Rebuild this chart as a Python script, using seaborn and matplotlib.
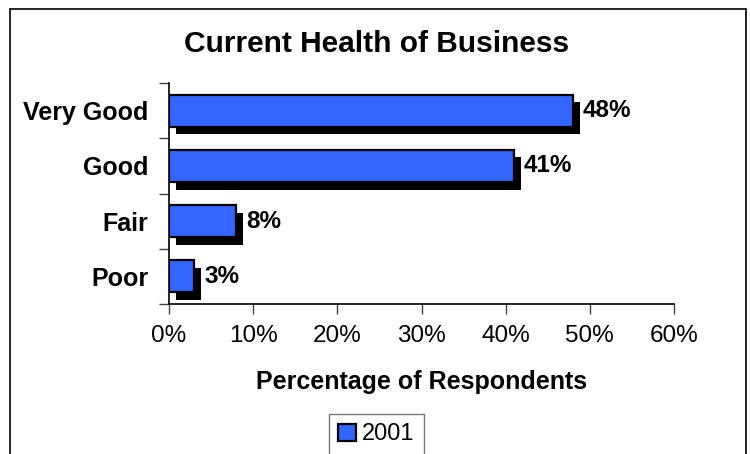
import matplotlib
matplotlib.use("Agg")
import matplotlib.pyplot as plt
import matplotlib.patheffects as pe
from matplotlib.patches import Rectangle, Patch
from matplotlib.ticker import PercentFormatter
import seaborn as sns
import pandas as pd

# Survey results
categories = ["Very Good", "Good", "Fair", "Poor"]
shares_2001 = [48, 41, 8, 3]
series_name = "2001"
x_ticks = [0, 10, 20, 30, 40, 50, 60]

BAR_BLUE = "#3366FF"

sns.set_theme(style="white")
plt.rcParams["font.family"] = ["Liberation Sans", "DejaVu Sans"]
plt.rcParams.update({
    "text.color": "black",
    "axes.labelcolor": "black",
    "xtick.color": "black",
    "ytick.color": "black",
})

df = pd.DataFrame({"Rating": categories, "Share": shares_2001})

fig = plt.figure(figsize=(7.5, 4.54), dpi=100)
ax = fig.add_axes([169 / 750, 1 - 304 / 454, (674 - 169) / 750, (304 - 83) / 454])

sns.barplot(data=df, x="Share", y="Rating", order=categories, orient="h",
            color=BAR_BLUE, saturation=1, width=0.58,
            edgecolor="black", linewidth=1.6, ax=ax)

# drop shadow behind each bar
for bar in ax.patches:
    bar.set_path_effects([
        pe.SimplePatchShadow(offset=(5, -5.5), shadow_rgbFace="black", alpha=1.0),
        pe.Normal(),
    ])

# value labels to the right of each bar
for bar, val in zip(ax.patches, shares_2001):
    y = bar.get_y() + bar.get_height() / 2
    ax.annotate(f"{val}%", xy=(bar.get_width(), y), xytext=(7, 0),
                textcoords="offset points", va="center", ha="left",
                fontsize=17.5, fontweight="bold", color="black")

ax.set_xlim(0, 60)
ax.set_ylim(3.5, -0.5)
ax.set_xticks(x_ticks)
ax.xaxis.set_major_formatter(PercentFormatter(decimals=0))
ax.set_yticks([-0.5, 0.5, 1.5, 2.5, 3.5], minor=False)
ax.set_yticklabels([])
ax.set_yticks(range(len(categories)), minor=True)
ax.set_yticklabels(categories, minor=True, fontsize=18, fontweight="bold")
ax.tick_params(axis="y", which="minor", length=0, pad=15)
ax.tick_params(axis="y", which="major", length=7, width=1, color="#444444",
               direction="out", left=True)
ax.tick_params(axis="x", length=7, width=1, color="#444444", direction="out",
               bottom=True, labelsize=17.5, pad=8)

for side in ("top", "right"):
    ax.spines[side].set_visible(False)
for side in ("left", "bottom"):
    ax.spines[side].set_color("black")
    ax.spines[side].set_linewidth(1.2)

ax.set_ylabel("")
ax.set_xlabel("Percentage of Respondents", fontsize=18, fontweight="bold", labelpad=17)

fig.text(377 / 750, 1 - 44 / 454, "Current Health of Business",
         ha="center", va="center", fontsize=21.5, fontweight="bold")

handle = Patch(facecolor=BAR_BLUE, edgecolor="black", linewidth=1.6, label=series_name)
leg = fig.legend(handles=[handle], loc="upper left",
                 bbox_to_anchor=(329 / 750, 1 - 414 / 454),
                 frameon=True, fancybox=False, fontsize=17,
                 handlelength=0.75, handleheight=0.75, handletextpad=0.25,
                 borderpad=0.4, borderaxespad=0)
leg.get_frame().set_edgecolor("#555555")
leg.get_frame().set_linewidth(1.0)

# outer chart border
fig.patches.append(Rectangle((10 / 750, -0.1), (746 - 10) / 750, 1.1 - 9 / 454,
                             transform=fig.transFigure, fill=False,
                             edgecolor="black", linewidth=1.2, clip_on=False))

fig.savefig("out.png", dpi=100, facecolor="white")
